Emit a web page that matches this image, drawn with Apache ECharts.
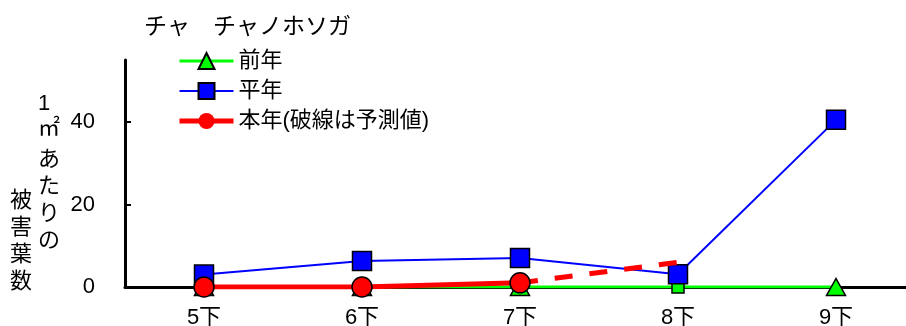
<!DOCTYPE html>
<html>
<head>
<meta charset="utf-8">
<script src="https://cdn.jsdelivr.net/npm/echarts@6/dist/echarts.min.js"></script>
<style>
  html, body { margin: 0; padding: 0; background: #fff; }
  #chart { width: 906px; height: 326px; }
</style>
</head>
<body>
<div id="chart"></div>
<script>
// 時期（半旬）
const categories = ['5下', '6下', '7下', '8下', '9下']
// 前年
const lastYear = [0, 0, 0, 0, 0]
// 平年
const normalYear = [3, 6.3, 7, 3.1, 40.5]
// 本年（実測）
const thisYear = [0, 0, 1, null, null]
// 本年（予測・破線）
const forecast = [null, null, 1, 6, null]
// 縦軸の目盛
const yTicks = [0, 20, 40]

const FONT = '"Liberation Sans", "Noto Sans CJK JP", sans-serif'

let myChart = echarts.init(document.getElementById('chart'))
myChart.setOption({
  backgroundColor: '#fff',
  animation: false,
  textStyle: { fontFamily: FONT, color: '#000' },
  title: {
    text: 'チャ　チャノホソガ',
    left: 139,
    top: 11,
    textStyle: { fontSize: 23, fontWeight: 'normal', color: '#000', fontFamily: FONT }
  },
  legend: {
    orient: 'vertical',
    left: 172,
    top: 45,
    itemWidth: 54,
    itemHeight: 20,
    itemGap: 8,
    data: [
      { name: '前年', lineStyle: { color: '#00ff00', width: 3 } },
      { name: '平年', lineStyle: { color: '#0000ff', width: 2 } },
      { name: '本年(破線は予測値)', lineStyle: { color: '#ff0000', width: 5, type: 'solid' } }
    ],
    textStyle: { fontSize: 22, color: '#000', fontFamily: FONT }
  },
  // グリッドは固定（ラベルのはみ出しで縮めない）
  grid: { left: 125, top: 60, bottom: 39, right: -9, containLabel: false, outerBoundsMode: 'none' },
  xAxis: {
    type: 'category',
    data: categories,
    boundaryGap: true,
    axisLine: { lineStyle: { color: '#000', width: 3 } },
    axisTick: { inside: true, length: 5, lineStyle: { color: '#000', width: 1 } },
    axisLabel: { fontSize: 22, color: '#000', margin: 20, fontFamily: FONT }
  },
  yAxis: {
    type: 'value',
    min: 0,
    max: 55,
    interval: 20,
    splitLine: { show: false },
    axisLine: { show: true, lineStyle: { color: '#000', width: 3 } },
    axisTick: { show: true, inside: true, length: 6, customValues: yTicks, lineStyle: { color: '#000', width: 2 } },
    axisLabel: { fontSize: 22, color: '#000', margin: 30, customValues: yTicks, fontFamily: FONT }
  },
  // 縦書きの軸タイトル
  graphic: [
    { type: 'text', left: 38, top: 91, style: { text: '1\n㎡', font: '22px ' + FONT, lineHeight: 25, align: 'center', fill: '#000' } },
    { type: 'text', left: 38, top: 146, style: { text: 'あ\nた\nり\nの', font: '22px ' + FONT, lineHeight: 27, align: 'center', fill: '#000' } },
    { type: 'text', left: 10, top: 187, style: { text: '被\n害\n葉\n数', font: '22px ' + FONT, lineHeight: 27, align: 'center', fill: '#000' } }
  ],
  series: [
    {
      name: '前年',
      type: 'line',
      z: 2,
      data: lastYear.map((v, i) => i === 3 ? { value: v, symbol: 'rect', symbolSize: 12 } : v),
      symbol: 'triangle',
      symbolSize: [19, 17],
      lineStyle: { color: '#00ff00', width: 3 },
      itemStyle: { color: '#00ff00', borderColor: '#000', borderWidth: 1.5 }
    },
    {
      name: '平年',
      type: 'line',
      z: 3,
      data: normalYear,
      symbol: 'rect',
      symbolSize: 19,
      lineStyle: { color: '#0000ff', width: 2 },
      itemStyle: { color: '#0000ff', borderColor: '#000', borderWidth: 1.5 }
    },
    {
      name: '本年(破線は予測値)',
      type: 'line',
      z: 5,
      data: forecast,
      showSymbol: false,
      symbol: 'none',
      lineStyle: { color: '#ff0000', width: 5, type: [18, 17] },
      itemStyle: { color: '#ff0000' }
    },
    {
      name: '本年(破線は予測値)',
      type: 'line',
      z: 6,
      data: thisYear,
      symbol: 'circle',
      symbolSize: 20,
      lineStyle: { color: '#ff0000', width: 5 },
      itemStyle: { color: '#ff0000', borderColor: '#000', borderWidth: 1.5 }
    }
  ]
})
</script>
</body>
</html>
